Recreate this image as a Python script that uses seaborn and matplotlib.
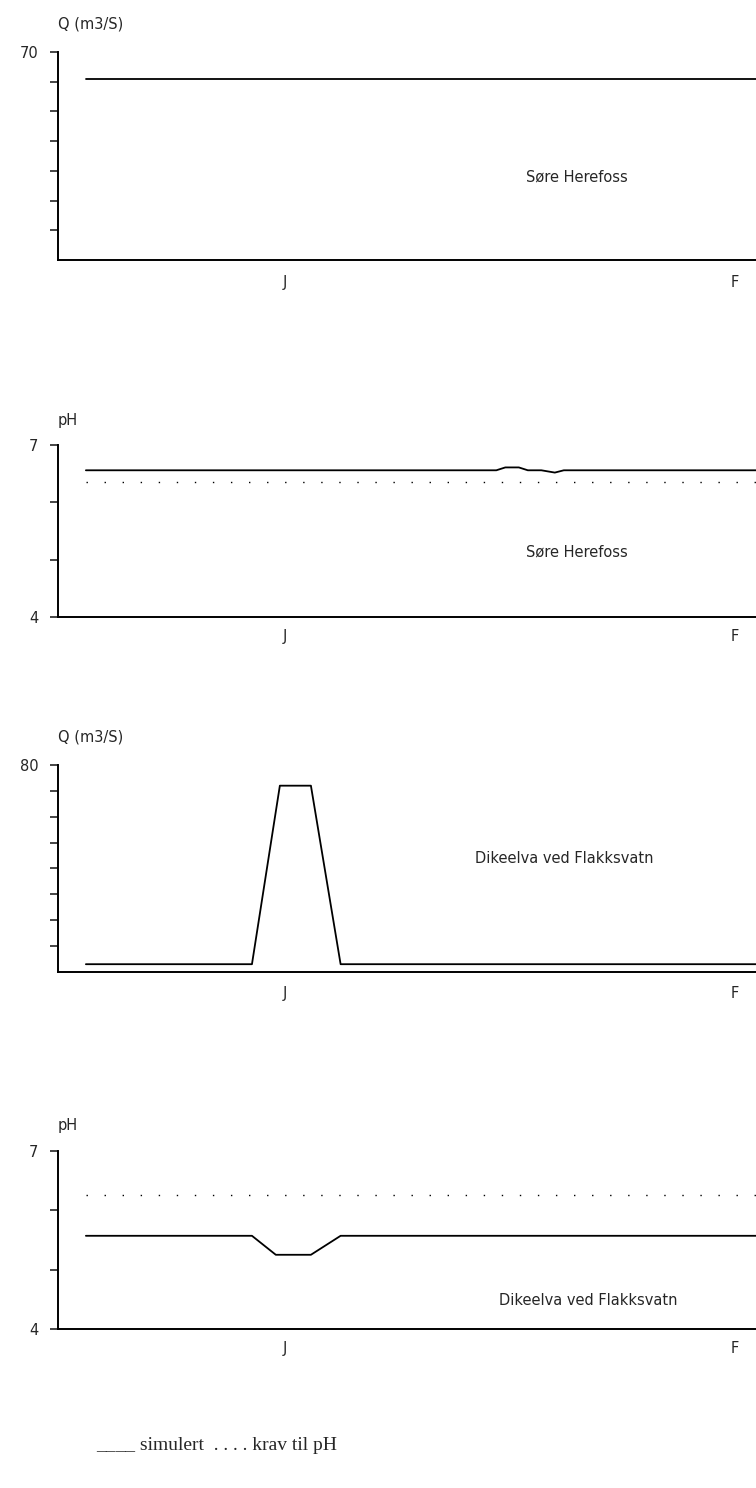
import matplotlib
matplotlib.use("Agg")
import matplotlib.pyplot as plt
import seaborn as sns
import pandas as pd

sns.set_style("white")
plt.rcParams['font.family'] = ['DejaVu Sans']

# x in month units: J centre = 0.5, Jan/Feb boundary = 1.0, F centre = 1.5
x_tick_labels = ["J", "F"]

q1_x = [0.058, 1.6]
q1_y = [61.0, 61.0]

ph1_x = [0.058, 0.97, 0.99, 1.02, 1.04, 1.07, 1.10, 1.12, 1.6]
ph1_y = [6.56, 6.56, 6.61, 6.61, 6.56, 6.56, 6.52, 6.56, 6.56]
ph1_krav = 6.36

q2_x = [0.058, 0.427, 0.489, 0.558, 0.624, 1.6]
q2_y = [3.0, 3.0, 72.0, 72.0, 3.0, 3.0]

ph2_x = [0.058, 0.427, 0.480, 0.558, 0.624, 1.6]
ph2_y = [5.57, 5.57, 5.25, 5.25, 5.57, 5.57]
ph2_krav = 6.25

panels = [
    dict(x=q1_x, y=q1_y, krav=None, ylim=(0, 70), ticks=list(range(10, 71, 10)), top="70", bot=None,
         ylabel="Q (m3/S)", name="Søre Herefoss", nx=0.743, ny=0.40, rect=(0.0767, 0.8253, 0.9233, 0.1398)),
    dict(x=ph1_x, y=ph1_y, krav=ph1_krav, ylim=(4, 7), ticks=[4, 5, 6, 7], top="7", bot="4",
         ylabel="pH", name="Søre Herefoss", nx=0.743, ny=0.38, rect=(0.0767, 0.5853, 0.9233, 0.1156)),
    dict(x=q2_x, y=q2_y, krav=None, ylim=(0, 80), ticks=list(range(10, 81, 10)), top="80", bot=None,
         ylabel="Q (m3/S)", name="Dikeelva ved Flakksvatn", nx=0.725, ny=0.55, rect=(0.0767, 0.3468, 0.9233, 0.1391)),
    dict(x=ph2_x, y=ph2_y, krav=ph2_krav, ylim=(4, 7), ticks=[4, 5, 6, 7], top="7", bot="4",
         ylabel="pH", name="Dikeelva ved Flakksvatn", nx=0.76, ny=0.16, rect=(0.0767, 0.1069, 0.9233, 0.1196)),
]

fig = plt.figure(figsize=(7.56, 14.88), dpi=100)
for p in panels:
    ax = fig.add_axes(p["rect"])
    df = pd.DataFrame({"x": p["x"], "y": p["y"]})
    sns.lineplot(data=df, x="x", y="y", ax=ax, color="black", linewidth=1.3, sort=False)
    if p["krav"] is not None:
        ax.plot([0.058, 1.6], [p["krav"]] * 2, color="black", linewidth=1.0,
                linestyle=(0, (1, 12)))
    ax.set_xlim(-0.004, 1.547)
    ax.set_ylim(*p["ylim"])
    ax.set_yticks(p["ticks"])
    labs = [""] * len(p["ticks"])
    labs[-1] = p["top"]
    if p["bot"]:
        labs[0] = p["bot"]
    ax.set_yticklabels(labs, fontsize=10.5)
    ax.set_xticks([0.5, 1.0, 1.5])
    ax.set_xticklabels(["", "", ""])
    for xv, t in zip([0.5, 1.5], x_tick_labels):
        ax.text(xv, -0.07, t, transform=ax.get_xaxis_transform(), ha="center", va="top", fontsize=10.5)
    ax.tick_params(axis="x", length=3, direction="inout", width=1)
    ax.tick_params(axis="y", length=6, direction="out", width=1.2, left=True, pad=8)
    ax.xaxis.get_major_ticks()[0].tick1line.set_visible(False)
    ax.xaxis.get_major_ticks()[2].tick1line.set_visible(False)
    for s in ["top", "right"]:
        ax.spines[s].set_visible(False)
    for s in ["left", "bottom"]:
        ax.spines[s].set_color("black")
        ax.spines[s].set_linewidth(1.4)
    ax.set_xlabel("")
    ax.set_ylabel("")
    ax.text(0.0, 1.1, p["ylabel"], transform=ax.transAxes, ha="left", va="bottom", fontsize=10.5)
    ax.text(p["nx"], p["ny"], p["name"], transform=ax.transAxes, ha="center", va="center", fontsize=10.5)

fig.text(96 / 756, 1 - 1445 / 1488, "____ simulert  . . . . krav til pH",
         family=["Liberation Serif", "DejaVu Serif"], fontsize=14, ha="left", va="center")

fig.savefig("out.png", dpi=100)
